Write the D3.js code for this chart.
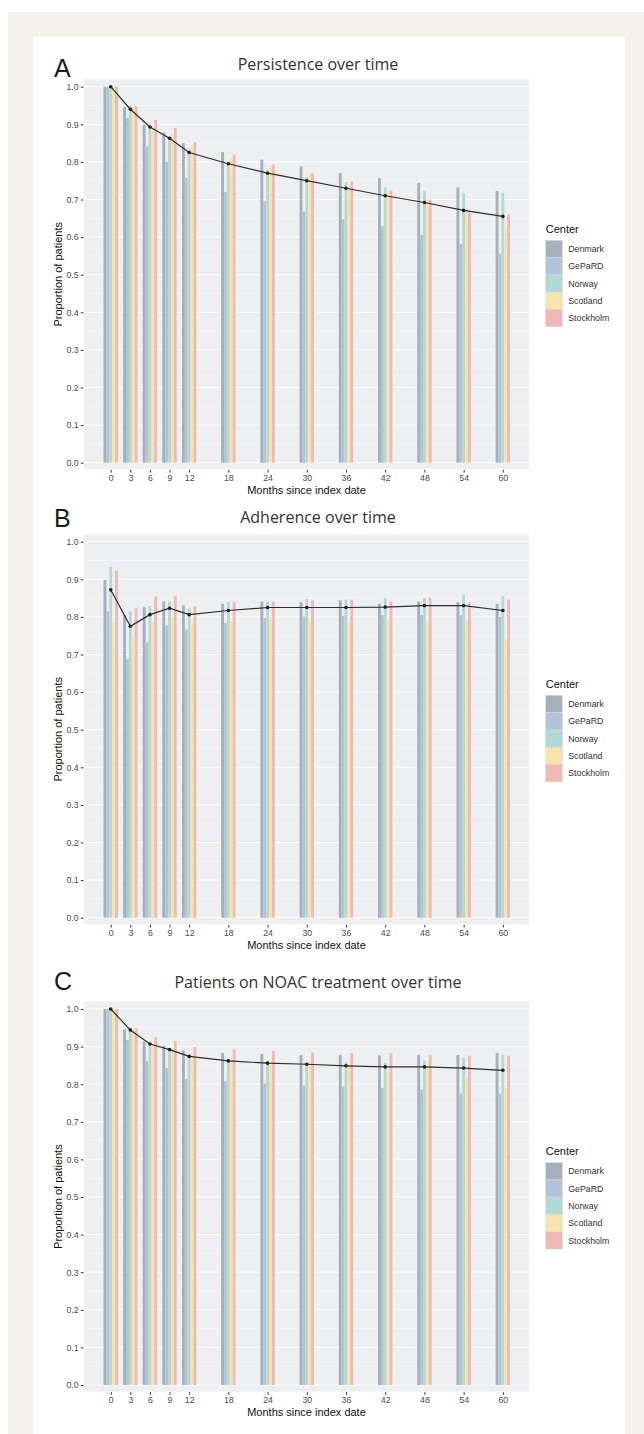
<!DOCTYPE html>
<html>
<head>
<meta charset="utf-8">
<script src="https://cdn.jsdelivr.net/npm/d3@7"></script>
<style>
	body { margin: 0; background: #fff; }
	svg { display: block; }
</style>
</head>
<body>
<div id="chart-area"></div>
<script>
// DATA
var months = [0, 3, 6, 9, 12, 18, 24, 30, 36, 42, 48, 54, 60];
var centers = ["Denmark", "GePaRD", "Norway", "Scotland", "Stockholm"];
var yTicks = [0, 0.1, 0.2, 0.3, 0.4, 0.5, 0.6, 0.7, 0.8, 0.9, 1.0];
var panelLetters = ["A", "B", "C"];
var panelTitles = ["Persistence over time", "Adherence over time", "Patients on NOAC treatment over time"];

// A - persistence
var persistDenmark   = [1.0, 0.946, 0.899, 0.878, 0.850, 0.826, 0.806, 0.788, 0.770, 0.757, 0.744, 0.732, 0.723];
var persistGePaRD    = [1.0, 0.917, 0.841, 0.800, 0.757, 0.720, 0.695, 0.668, 0.648, 0.629, 0.606, 0.582, 0.556];
var persistNorway    = [1.0, 0.950, 0.895, 0.865, 0.835, 0.800, 0.778, 0.760, 0.746, 0.732, 0.723, 0.717, 0.717];
var persistScotland  = [1.0, 0.945, 0.886, 0.873, 0.838, 0.810, 0.788, 0.768, 0.735, 0.721, 0.700, 0.668, 0.624];
var persistStockholm = [1.0, 0.948, 0.912, 0.890, 0.853, 0.819, 0.793, 0.770, 0.748, 0.724, 0.700, 0.666, 0.660];
var persistPooled    = [1.0, 0.940, 0.893, 0.863, 0.825, 0.795, 0.770, 0.750, 0.730, 0.710, 0.692, 0.671, 0.655];

// B - adherence
var adhDenmark   = [0.899, 0.805, 0.826, 0.841, 0.831, 0.835, 0.841, 0.839, 0.844, 0.835, 0.841, 0.839, 0.835];
var adhGePaRD    = [0.815, 0.688, 0.732, 0.777, 0.766, 0.784, 0.797, 0.801, 0.803, 0.805, 0.805, 0.805, 0.800];
var adhNorway    = [0.933, 0.815, 0.828, 0.841, 0.823, 0.839, 0.841, 0.847, 0.846, 0.850, 0.850, 0.859, 0.855];
var adhScotland  = [0.785, 0.748, 0.785, 0.800, 0.782, 0.789, 0.800, 0.790, 0.784, 0.790, 0.790, 0.790, 0.744];
var adhStockholm = [0.923, 0.823, 0.854, 0.856, 0.828, 0.839, 0.841, 0.844, 0.846, 0.841, 0.850, 0.839, 0.846];
var adhPooled    = [0.872, 0.775, 0.806, 0.823, 0.806, 0.817, 0.825, 0.825, 0.825, 0.826, 0.830, 0.830, 0.817];

// C - on NOAC treatment
var noacDenmark   = [1.0, 0.946, 0.913, 0.902, 0.890, 0.883, 0.880, 0.878, 0.878, 0.877, 0.878, 0.878, 0.883];
var noacGePaRD    = [1.0, 0.918, 0.861, 0.843, 0.814, 0.808, 0.802, 0.797, 0.794, 0.790, 0.786, 0.775, 0.775];
var noacNorway    = [1.0, 0.952, 0.908, 0.890, 0.878, 0.865, 0.861, 0.855, 0.858, 0.857, 0.863, 0.870, 0.878];
var noacScotland  = [1.0, 0.945, 0.905, 0.895, 0.875, 0.860, 0.855, 0.850, 0.850, 0.830, 0.850, 0.817, 0.790];
var noacStockholm = [1.0, 0.949, 0.925, 0.915, 0.899, 0.893, 0.889, 0.884, 0.883, 0.883, 0.878, 0.876, 0.876];
var noacPooled    = [1.0, 0.944, 0.907, 0.892, 0.874, 0.862, 0.856, 0.853, 0.849, 0.846, 0.846, 0.843, 0.837];

var panelSeries = [
	[persistDenmark, persistGePaRD, persistNorway, persistScotland, persistStockholm],
	[adhDenmark, adhGePaRD, adhNorway, adhScotland, adhStockholm],
	[noacDenmark, noacGePaRD, noacNorway, noacScotland, noacStockholm]
];
var panelPooled = [persistPooled, adhPooled, noacPooled];

// LAYOUT
var W = 644, H = 1434;
var panelTop = [86.7, 541.7, 1009];   // pixel of 1.0
var panelH = 376;                     // 1.0 -> 0.0
var titleBase = [70, 523, 988];
var letterBase = [77, 527, 990];

var svg = d3.select('#chart-area')
	.append('svg')
	.attr("width", W)
	.attr("height", H);

// page frame
svg.append("rect")
	.attr("x", 8).attr("y", 12)
	.attr("width", W - 8).attr("height", H - 12)
	.attr("fill", "#f3f2eb");
svg.append("rect")
	.attr("x", 33).attr("y", 37)
	.attr("width", 592).attr("height", H - 37)
	.attr("fill", "#ffffff");

// SCALES
var x = d3.scaleLinear()
	.domain([-4.09, 64.0])
	.range([84, 529]);
var dodge = d3.scaleBand()
	.domain(centers)
	.range([-1.1, 1.1]);
var color = d3.scaleOrdinal()
	.domain(centers)
	.range(["#a6afbc", "#b1c3d9", "#b2dad5", "#f5e5ac", "#f0b9b1"]);

var sans = "'Liberation Sans', Arial, sans-serif";

panelTitles.forEach((title, p) => {
	var top = panelTop[p];
	var y = d3.scaleLinear()
		.domain([0, 1])
		.range([top + panelH, top]);
	var g = svg.append("g");

	// panel background + grid
	var bgTop = y(1.0197), bgBot = y(-0.0176);
	g.append("rect")
		.attr("x", x.range()[0])
		.attr("y", bgTop)
		.attr("width", x.range()[1] - x.range()[0])
		.attr("height", bgBot - bgTop)
		.attr("fill", "#eeeff1");
	g.selectAll(".minor")
		.data(d3.range(0.05, 1.0, 0.1))
		.enter().append("line")
		.attr("x1", x.range()[0]).attr("x2", x.range()[1])
		.attr("y1", d => y(d)).attr("y2", d => y(d))
		.attr("stroke", "#fafafb").attr("stroke-width", 0.5);
	g.selectAll(".major")
		.data(yTicks)
		.enter().append("line")
		.attr("x1", x.range()[0]).attr("x2", x.range()[1])
		.attr("y1", d => y(d)).attr("y2", d => y(d))
		.attr("stroke", "#ffffff").attr("stroke-width", 1);

	// bars
	var bw = x(dodge.bandwidth()) - x(0);
	panelSeries[p].forEach((vals, ci) => {
		var c = centers[ci];
		g.selectAll(".bar-" + ci)
			.data(vals)
			.enter().append("rect")
			.attr("x", (d, i) => x(months[i] + dodge(c)))
			.attr("width", bw)
			.attr("y", d => y(d))
			.attr("height", d => y(0) - y(d))
			.attr("fill", color(c));
	});

	// pooled line
	var line = d3.line()
		.x((d, i) => x(months[i]))
		.y(d => y(d));
	g.append("path")
		.datum(panelPooled[p])
		.attr("d", line)
		.attr("fill", "none")
		.attr("stroke", "#2e2e2e")
		.attr("stroke-width", 1.2);
	g.selectAll(".pt")
		.data(panelPooled[p])
		.enter().append("circle")
		.attr("cx", (d, i) => x(months[i]))
		.attr("cy", d => y(d))
		.attr("r", 1.8)
		.attr("fill", "#1e1e1e");

	// Y Axis
	var yAxisCall = d3.axisLeft(y)
		.tickValues(yTicks)
		.tickFormat(d3.format(".1f"))
		.tickSize(2.7)
		.tickPadding(2.2);
	var ya = g.append("g")
		.attr("transform", "translate(" + (x.range()[0] - 0.5) + ",0)")
		.call(yAxisCall);
	// X Axis
	var xAxisCall = d3.axisBottom(x)
		.tickValues(months)
		.tickSize(2.7)
		.tickPadding(2.2);
	var xa = g.append("g")
		.attr("transform", "translate(0," + (bgBot + 0.5) + ")")
		.call(xAxisCall);
	[ya, xa].forEach(a => {
		a.select(".domain").remove();
		a.selectAll(".tick line").attr("stroke", "#333").attr("stroke-width", 1);
		a.selectAll("text")
			.attr("fill", "#4d4d4d")
			.style("font-family", sans)
			.style("font-size", "8.8px");
	});

	// LABELS
	g.append("text")
		.attr("x", (x.range()[0] + x.range()[1]) / 2)
		.attr("y", y(0) + 31)
		.attr("text-anchor", "middle")
		.style("font-family", sans)
		.style("font-size", "11px")
		.attr("fill", "#111")
		.text("Months since index date");
	g.append("text")
		.attr("transform", "translate(62," + ((bgTop + bgBot) / 2) + ") rotate(-90)")
		.attr("text-anchor", "middle")
		.style("font-family", sans)
		.style("font-size", "11px")
		.attr("fill", "#111")
		.text("Proportion of patients");
	g.append("text")
		.attr("x", 318)
		.attr("y", titleBase[p])
		.attr("text-anchor", "middle")
		.style("font-family", "'Open Sans', sans-serif")
		.style("font-size", "16px")
		.attr("fill", "#333")
		.text(title);
	g.append("text")
		.attr("x", 54)
		.attr("y", letterBase[p])
		.style("font-family", sans)
		.style("font-size", "25px")
		.attr("fill", "#1a1a1a")
		.text(panelLetters[p]);

	// Legend
	var keyH = 17.28;
	var legTop = (bgTop + bgBot) / 2 - (13 + 5.5 + keyH * centers.length) / 2;
	var legend = g.append("g")
		.attr("transform", `translate(545.7, ${legTop})`);
	legend.append("text")
		.attr("x", 0)
		.attr("y", 11)
		.style("font-family", sans)
		.style("font-size", "11px")
		.attr("fill", "#111")
		.text("Center");
	centers.forEach((c, i) => {
		var row = legend.append("g")
			.attr("transform", `translate(0, ${18.5 + i * keyH})`);
		row.append("rect")
			.attr("width", 16.6)
			.attr("height", keyH)
			.attr("fill", color(c))
			.attr("stroke", "#d9d9d9")
			.attr("stroke-width", 0.6);
		row.append("text")
			.attr("x", 22.5)
			.attr("y", keyH / 2 + 3.1)
			.style("font-family", sans)
			.style("font-size", "8.8px")
			.attr("fill", "#333")
			.text(c);
	});
});
</script>
</body>
</html>
